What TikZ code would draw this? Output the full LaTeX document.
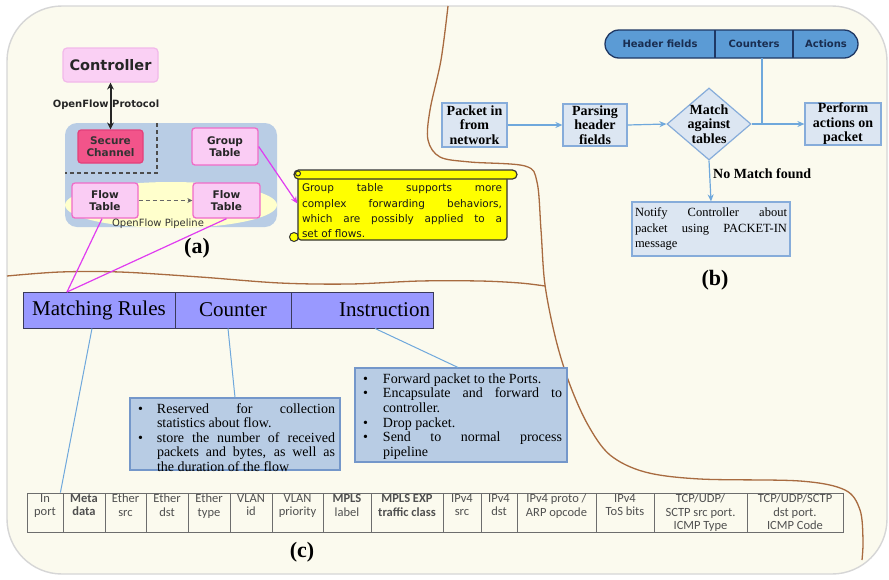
\documentclass[tikz,border=0pt]{standalone}
\usepackage{fontspec}
\setmainfont{Liberation Serif}
\newfontfamily\vsans{DejaVu Sans}
\newfontfamily\csans{Carlito}
\usetikzlibrary{arrows.meta,shapes.geometric}

\definecolor{cream}{HTML}{FBFAEE}
\definecolor{framegrey}{HTML}{D6D6D6}
\definecolor{brownline}{HTML}{A86B40}
\definecolor{pinkfill}{HTML}{FACCF4}
\definecolor{pinkedge}{HTML}{F06CC8}
\definecolor{ctrlfill}{HTML}{FAD0F4}
\definecolor{ctrledge}{HTML}{F2B8EA}
\definecolor{securefill}{HTML}{F2548A}
\definecolor{secureedge}{HTML}{E3407A}
\definecolor{switchblue}{HTML}{B9CDE5}
\definecolor{pipeyellow}{HTML}{FFFFCC}
\definecolor{magentaline}{HTML}{E03CF0}
\definecolor{notefill}{HTML}{FFFF00}
\definecolor{barblue}{HTML}{5B9BD5}
\definecolor{barnavy}{HTML}{1F3864}
\definecolor{flowfill}{HTML}{DCE6F2}
\definecolor{flowedge}{HTML}{86ACDA}
\definecolor{flowarrow}{HTML}{6FA8DC}
\definecolor{rulefill}{HTML}{9999FF}
\definecolor{ruleedge}{HTML}{3A3A5A}
\definecolor{listfill}{HTML}{B8CCE4}
\definecolor{listedge}{HTML}{7497CA}
\definecolor{tableline}{HTML}{6D6D6D}
\definecolor{tabletext}{HTML}{505050}

\tikzset{
  pinkbox/.style={draw=pinkedge, fill=pinkfill, line width=1.3pt, rounded corners=3pt,
    font=\vsans\bfseries\fontsize{10.5}{12.5}\selectfont, align=center, text=black!85, inner sep=0pt},
  flowbox/.style={draw=flowedge, fill=flowfill, line width=1.2pt,
    font=\bfseries\fontsize{14}{14.5}\selectfont, align=center, inner sep=0pt},
  flowlink/.style={draw=flowarrow, line width=1.2pt, -{Stealth[length=7pt,width=6pt]}},
  flowplain/.style={draw=flowarrow, line width=1.2pt},
  magentalink/.style={draw=magentaline, line width=1.2pt},
  rulecell/.style={draw=ruleedge, fill=rulefill, line width=0.9pt, minimum height=36pt,
    inner sep=0pt, font=\fontsize{21}{22}\selectfont},
  listbox/.style={draw=listedge, fill=listfill, line width=1.1pt, inner sep=0pt},
  listtext/.style={inner xsep=0pt, inner ysep=0pt, align=justify,
    font=\fontsize{14}{14.6}\selectfont},
  listlink/.style={draw=flowarrow, line width=1pt},
  cellbox/.style={draw=tableline, line width=0.8pt, minimum height=39pt, inner sep=0pt},
  celltext/.style={inner sep=1pt, align=center, text=tabletext,
    font=\csans\fontsize{12.5}{13.5}\selectfont},
  panellabel/.style={font=\bfseries\fontsize{22}{24}\selectfont},
  brown/.style={draw=brownline, line width=1.3pt},
  hdrtext/.style={font=\vsans\bfseries\fontsize{10}{12}\selectfont, text=barnavy!80!black}
}

\newcommand{\bulletitem}[2]{\par\hangindent=#1\hangafter=1\noindent
  \makebox[#1][l]{\hspace{3pt}\textbullet}#2\par}

\begin{document}
\begin{tikzpicture}[x=1pt, y=-1pt]
\useasboundingbox (0,0) rectangle (889,579);
\fill[white] (0,0) rectangle (889,579);

% rounded backdrop
\draw[fill=cream, draw=framegrey, line width=1.4pt, rounded corners=55pt] (7,6) rectangle (887,574);

% dividing curves
\draw[brown] plot[smooth, tension=0.55] coordinates {(448,6) (441,60) (430,110) (428,140) (440,157) (470,162)
  (525,166) (537,182) (541,230) (545,285) (556,340) (570,385) (588,425) (610,455) (645,472)
  (700,479) (800,481) (845,490) (860,510) (863,540) (862,560)};
\draw[brown] plot[smooth, tension=0.55] coordinates {(7,276) (60,272) (120,272) (200,277) (280,283)
  (350,284) (420,281) (480,281) (520,283) (545,286)};

% ---------------- (a) OpenFlow switch ----------------
\fill[switchblue, rounded corners=12pt] (65,123) rectangle (277,227);
\fill[pipeyellow] (171,205) ellipse [x radius=106, y radius=23];
\draw[black!70, line width=1.2pt, dash pattern=on 4pt off 3pt] (157,123) -- (157,173) -- (65,173);

\node (ctrl) [draw=ctrledge, fill=ctrlfill, line width=1.2pt, rounded corners=4pt,
  minimum width=95pt, minimum height=34pt, inner sep=0pt,
  font=\vsans\bfseries\fontsize{14.5}{16}\selectfont, text=black!85] at (110.5,65) {Controller};
\node (sec) [draw=secureedge, fill=securefill, line width=1.2pt, rounded corners=3pt,
  minimum width=65pt, minimum height=33pt, inner sep=0pt, align=center,
  font=\vsans\bfseries\fontsize{10.5}{12.5}\selectfont, text=black!80] at (110.5,146.5) {Secure\\Channel};
\node (grp) [pinkbox, minimum width=66pt, minimum height=37pt] at (225,146.5) {Group\\Table};
\node (ft1) [pinkbox, minimum width=66pt, minimum height=35pt] at (105,200.5) {Flow\\Table};
\node (ft2) [pinkbox, minimum width=67pt, minimum height=35pt] at (226.5,200.5) {Flow\\Table};

\node (proto) [font=\vsans\bfseries\fontsize{10}{11}\selectfont, text=black!85, inner sep=0pt] at (106,105) {OpenFlow Protocol};
\node (pipe) [font=\vsans\fontsize{10}{11}\selectfont, text=black!80, inner sep=0pt] at (158,224) {OpenFlow Pipeline};

\draw[black!85, line width=2pt, {Stealth[length=7pt,width=7pt]}-{Stealth[length=7pt,width=7pt]}] (ctrl.south) -- (sec.north);
\draw[black!60, line width=1.2pt, dash pattern=on 4pt off 3pt, -{Stealth[length=5pt,width=5pt]}] (ft1.east) -- (ft2.west);

\node (lbla) [panellabel] at (197,248) {(a)};

% scroll note
\fill[notefill, draw=black!80, line width=1pt] (294,237) circle (4.5);
\node (note) [fill=notefill, draw=black!80, line width=1.2pt, rounded corners=3pt,
  minimum width=209pt, minimum height=64pt, inner sep=0pt] at (402.5,208) {};
\draw[fill=notefill, draw=black!80, line width=1.2pt, rounded corners=4.5pt] (294,170) rectangle (517,179);
\draw[black!80, line width=1pt] (298,173.5) circle (2.5);
\node (notetext) [text width=200pt, align=justify, inner sep=0pt,
  font=\vsans\fontsize{10.5}{15.3}\selectfont, text=black!90] at (402,211)
  {Group table supports more\linebreak complex forwarding behaviors,\linebreak which are possibly applied to a\linebreak set of flows.};

\draw[magentalink, -{Stealth[length=7pt,width=6pt]}] (grp.east) -- ([yshift=4.5pt]note.west);

% ---------------- (b) packet processing ----------------
\draw[fill=barblue, draw=barnavy, line width=1.3pt, rounded corners=14pt] (605,30) rectangle (858,58);
\draw[barnavy, line width=1.1pt] (715,30) -- (715,58) (793,30) -- (793,58);
\node (hf) [hdrtext] at (660,44) {Header fields};
\node (cn) [hdrtext] at (754,44) {Counters};
\node (ac) [hdrtext] at (826,44) {Actions};
\coordinate (cnbase) at (762,58);
\coordinate (cnjoin) at (762,124);

\node (pin) [flowbox, minimum width=65pt, minimum height=44pt] at (474.5,125) {Packet in\\from\\network};
\node (parse) [flowbox, minimum width=64pt, minimum height=42pt] at (595,125) {Parsing\\header\\fields};
\node (match) [diamond, draw=flowedge, fill=flowfill, line width=1.2pt, minimum width=84pt,
  minimum height=72pt, inner sep=0pt] at (709,124) {};
\node (matchtext) [font=\bfseries\fontsize{14}{14.5}\selectfont, align=center, inner sep=0pt] at (709,124) {Match\\against\\tables};
\node (perf) [flowbox, minimum width=76pt, minimum height=42pt] at (843,124) {Perform\\actions on\\packet};
\node (notify) [draw=flowedge, fill=flowfill, line width=1.2pt, minimum width=158pt, minimum height=54pt,
  inner sep=0pt] at (711,229) {};
\node (notifytext) [text width=152pt, align=justify, inner sep=0pt,
  font=\fontsize{12.5}{15.6}\selectfont] at (711,229)
  {Notify Controller about\linebreak packet using PACKET-IN\linebreak message};

\draw[flowlink] (pin.east) -- (parse.west);
\draw[flowlink] (parse.east) -- (match.west);
\draw[flowlink] (match.east) -- (perf.west);
\draw[flowplain] (cnbase) -- (cnjoin);
\draw[flowlink] (match.south) -- (notify.north);
\node (nomatch) [anchor=west, inner sep=0pt, font=\bfseries\fontsize{14}{15}\selectfont] at (713,174) {No Match found};

\node (lblb) [panellabel] at (715,280) {(b)};

% ---------------- (c) flow entry ----------------
\node (mr) [rulecell, minimum width=152pt] at (99,310) {Matching Rules};
\node (ct) [rulecell, minimum width=116pt] at (233,310) {Counter};
\node (ins) [rulecell, minimum width=142pt, text width=136pt, align=right] at (362,310) {Instruction};

\coordinate (mrtip) at (67,292);
\draw[magentalink] ([xshift=-3pt]ft1.south) -- (mrtip);
\draw[magentalink] (ft2.south) -- (mrtip);

\node (cbox) [listbox, minimum width=210pt, minimum height=72pt] at (235,434) {};
\node (ctext) [listtext, text width=200pt] at (235,435)
  {\bulletitem{22pt}{Reserved for collection\linebreak statistics about flow.}%
   \bulletitem{22pt}{store the number of received\linebreak packets and bytes, as well as\linebreak the duration of the flow}};

\node (ibox) [listbox, minimum width=212pt, minimum height=94pt] at (461,415) {};
\node (itext) [listtext, text width=202pt] at (461,414)
  {\bulletitem{23pt}{Forward packet to the Ports.}%
   \bulletitem{23pt}{Encapsulate and forward to\linebreak controller.}%
   \bulletitem{23pt}{Drop packet.}%
   \bulletitem{23pt}{Send to normal process\linebreak pipeline}};

% header fields table
\foreach \l/\r/\t [count=\i] in {
  27/63/{In\\port},
  63/105/{\textbf{Meta}\\\textbf{data}},
  105/146/{Ether\\src},
  146/188/{Ether\\dst},
  188/230/{Ether\\type},
  230/272/{VLAN\\id},
  272/323/{VLAN\\priority},
  323/371/{\textbf{MPLS}\\label},
  371/443/{\textbf{MPLS EXP}\\\textbf{traffic class}},
  443/481/{IPv4\\src},
  481/517/{IPv4\\dst},
  517/596/{IPv4 proto /\\ARP opcode},
  596/654/{IPv4\\ToS bits},
  654/747/{TCP/UDP/\\SCTP src port.\\ICMP Type},
  747/843/{TCP/UDP/SCTP\\dst port.\\ICMP Code}}
{
  \pgfmathsetmacro\w{\r-\l}
  \pgfmathsetmacro\cx{(\l+\r)/2}
  \node (cell\i) [cellbox, minimum width=\w pt] at (\cx,512.5) {};
  \node (lab\i) [celltext, anchor=north] at ([yshift=-0.5pt]cell\i.north) {\t};
}

\draw[listlink] ([xshift=-7pt]mr.south) -- ([xshift=-3pt]cell1.north east);
\draw[listlink] ([xshift=-5pt]ct.south) -- (cbox.north);
\draw[listlink] ([xshift=13pt]ins.south) -- ([xshift=-3pt]ibox.north);

\node (lblc) [panellabel] at (302,552) {(c)};
\end{tikzpicture}
\end{document}
